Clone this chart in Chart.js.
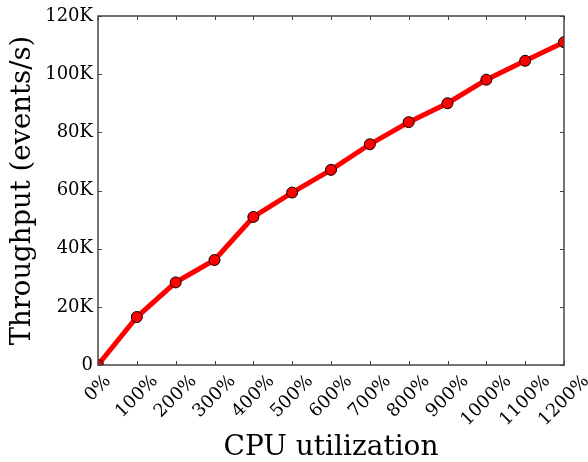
<!DOCTYPE html>
<html lang="en">
<head>
<meta charset="UTF-8">
<title>Throughput vs CPU utilization</title>
<script src="https://cdn.jsdelivr.net/npm/chart.js"></script>
<style>
  html, body { margin: 0; padding: 0; background: #fff; }
</style>
</head>
<body>
<canvas id="cpuChart" width="588" height="462"></canvas>

<script>
  // values
  const cpuLabels = ['0%', '100%', '200%', '300%', '400%', '500%', '600%',
                     '700%', '800%', '900%', '1000%', '1100%', '1200%'];
  const throughput = [0, 16500, 28400, 36100, 50900, 59300, 67100,
                      75900, 83500, 90000, 98100, 104600, 111000];
  const yTicks = [0, 20000, 40000, 60000, 80000, 100000, 120000];

  Chart.defaults.font.family = '"DejaVu Serif", serif';
  Chart.defaults.color = '#000';

  // matplotlib-like frame: box round the plot, ticks pointing inward,
  // x labels rotated 45deg and centred under their tick
  const frameAndTicks = {
    id: 'frameAndTicks',
    afterDraw(chart) {
      const { ctx, chartArea: a, scales: { x, y } } = chart;
      ctx.save();
      ctx.strokeStyle = '#444';
      ctx.lineWidth = 1.5;
      ctx.strokeRect(a.left, a.top, a.right - a.left, a.bottom - a.top);

      ctx.lineWidth = 1;
      ctx.beginPath();
      cpuLabels.forEach((lab, i) => {
        const px = Math.round(x.getPixelForValue(i)) + 0.5;
        ctx.moveTo(px, a.bottom); ctx.lineTo(px, a.bottom - 4);
        ctx.moveTo(px, a.top); ctx.lineTo(px, a.top + 4);
      });
      yTicks.forEach(v => {
        const py = Math.round(y.getPixelForValue(v)) + 0.5;
        ctx.moveTo(a.left, py); ctx.lineTo(a.left + 4, py);
        ctx.moveTo(a.right, py); ctx.lineTo(a.right - 4, py);
      });
      ctx.stroke();

      const fs = 18;
      ctx.font = fs + 'px "DejaVu Serif"';
      ctx.fillStyle = '#000';
      ctx.textAlign = 'center';
      ctx.textBaseline = 'middle';
      cpuLabels.forEach((lab, i) => {
        const w = ctx.measureText(lab).width;
        const half = (w + fs) / (2 * Math.SQRT2);
        ctx.save();
        ctx.translate(x.getPixelForValue(i), a.bottom + 7 + half);
        ctx.rotate(-Math.PI / 4);
        ctx.fillText(lab, 0, 0);
        ctx.restore();
      });
      ctx.restore();
    }
  };

  const ctx = document.getElementById('cpuChart').getContext('2d');
  const cpuChart = new Chart(ctx, {
    type: 'line',
    data: {
      labels: cpuLabels,
      datasets: [{
        label: 'Throughput',
        data: throughput,
        borderColor: '#ff0000',
        borderWidth: 5,
        pointRadius: 5.5,
        pointBackgroundColor: '#ff0000',
        pointBorderColor: '#000',
        pointBorderWidth: 1,
        tension: 0,
        clip: 0
      }]
    },
    options: {
      responsive: false,
      animation: false,
      layout: { padding: { top: 16, right: 24, left: 0, bottom: 0 } },
      plugins: {
        legend: { display: false },
        tooltip: { enabled: false }
      },
      scales: {
        x: {
          grid: { display: false, drawTicks: false },
          border: { display: false },
          ticks: { display: false },
          title: {
            display: true,
            text: 'CPU utilization',
            font: { size: 28, lineHeight: 1 },
            padding: 0
          },
          afterFit: (scale) => { scale.height = 97; }
        },
        y: {
          min: 0,
          max: 120000,
          grid: { display: false, drawTicks: false },
          border: { display: false },
          afterBuildTicks: (scale) => { scale.ticks = yTicks.map(v => ({ value: v })); },
          ticks: {
            padding: 5,
            font: { size: 18 },
            callback: (v) => v === 0 ? '0' : (v / 1000) + 'K'
          },
          title: {
            display: true,
            text: 'Throughput (events/s)',
            font: { size: 27.5, lineHeight: 1 },
            padding: { top: 9, bottom: 0 }
          },
          afterFit: (scale) => { scale.width = 98; }
        }
      }
    },
    plugins: [frameAndTicks]
  });
</script>
</body>
</html>
